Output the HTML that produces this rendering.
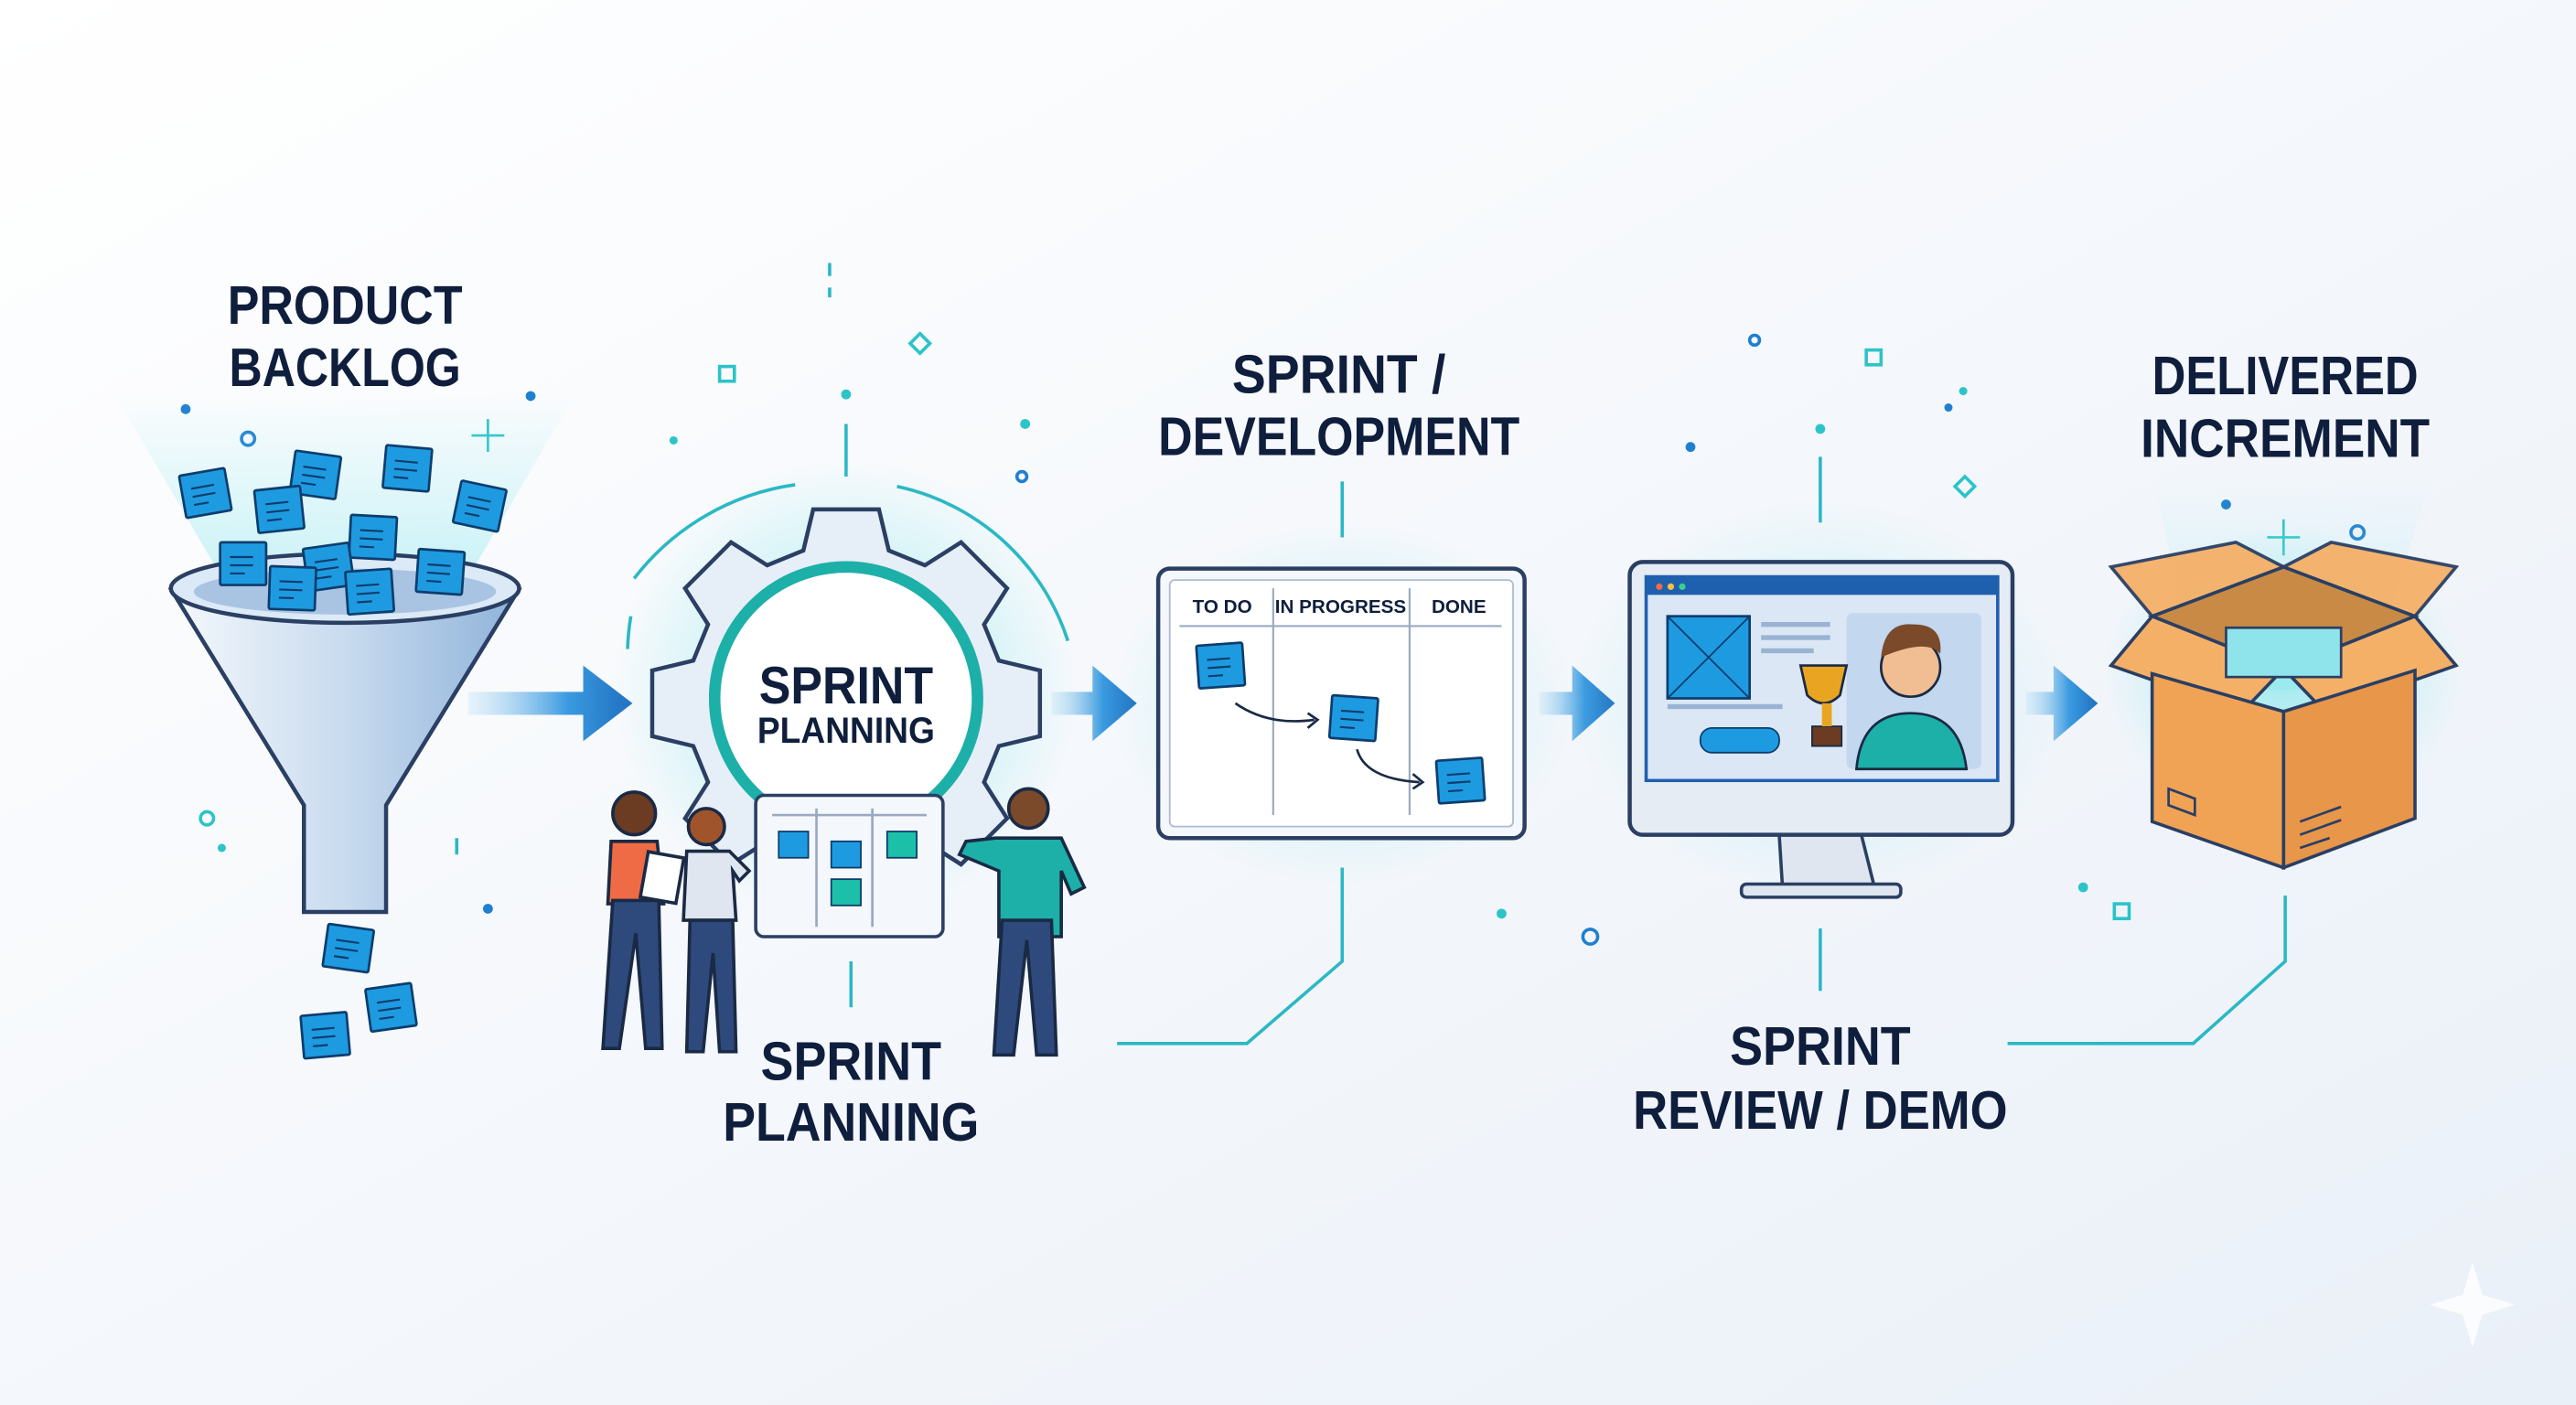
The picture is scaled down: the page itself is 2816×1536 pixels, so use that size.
<!DOCTYPE html>
<html><head><meta charset="utf-8"><style>
html,body{margin:0;padding:0;width:2816px;height:1536px;overflow:hidden;background:#f5f8fc}
svg{display:block}
text{font-family:"Liberation Sans",sans-serif;font-weight:bold;fill:#0f1e3c}
</style></head><body>
<svg width="2816" height="1536" viewBox="0 0 1568 855" preserveAspectRatio="none" xmlns="http://www.w3.org/2000/svg">
<defs>
<linearGradient id="bg" x1="0" y1="0" x2="1" y2="1"><stop offset="0" stop-color="#ffffff"/><stop offset="1" stop-color="#eaf0f8"/></linearGradient>
<linearGradient id="arr" x1="0" x2="1"><stop offset="0" stop-color="#bfe0f5" stop-opacity="0.3"/><stop offset="0.6" stop-color="#3b9be0"/><stop offset="1" stop-color="#1f6fc0"/></linearGradient>
<radialGradient id="glow"><stop offset="0" stop-color="#7fe6ea" stop-opacity="0.7"/><stop offset="1" stop-color="#7fe6ea" stop-opacity="0"/></radialGradient>
<linearGradient id="fun" x1="0" x2="1"><stop offset="0" stop-color="#f4f8fc"/><stop offset="0.5" stop-color="#c9dbef"/><stop offset="1" stop-color="#8fb3da"/></linearGradient>
<linearGradient id="beam" x1="0" y1="1" x2="0" y2="0"><stop offset="0" stop-color="#8ee8ee" stop-opacity="0.6"/><stop offset="1" stop-color="#8ee8ee" stop-opacity="0"/></linearGradient>
<g id="note"><rect x="-14" y="-13" width="28" height="26" fill="#1e9be0" stroke="#0d3d6e" stroke-width="1.5" rx="1"/><path d="M-8-4h14M-8 1h14M-8 6h9" stroke="#0d3d6e" stroke-width="1.2"/></g>
<g id="arrow"><path d="M0-10H-0 M0 -10 h0" /></g>
</defs>
<rect width="1568" height="855" fill="url(#bg)"/>

<!-- Titles -->
<text x="210" y="197" font-size="33" text-anchor="middle" textLength="143" lengthAdjust="spacingAndGlyphs">PRODUCT</text>
<text x="210" y="235" font-size="33" text-anchor="middle" textLength="141" lengthAdjust="spacingAndGlyphs">BACKLOG</text>
<text x="815" y="239" font-size="33" text-anchor="middle" textLength="130" lengthAdjust="spacingAndGlyphs">SPRINT /</text>
<text x="815" y="277" font-size="33" text-anchor="middle" textLength="220" lengthAdjust="spacingAndGlyphs">DEVELOPMENT</text>
<text x="1391" y="240" font-size="33" text-anchor="middle" textLength="162" lengthAdjust="spacingAndGlyphs">DELIVERED</text>
<text x="1391" y="278" font-size="33" text-anchor="middle" textLength="176" lengthAdjust="spacingAndGlyphs">INCREMENT</text>
<text x="518" y="657" font-size="33" text-anchor="middle" textLength="110" lengthAdjust="spacingAndGlyphs">SPRINT</text>
<text x="518" y="694" font-size="33" text-anchor="middle" textLength="156" lengthAdjust="spacingAndGlyphs">PLANNING</text>
<text x="1108" y="648" font-size="33" text-anchor="middle" textLength="110" lengthAdjust="spacingAndGlyphs">SPRINT</text>
<text x="1108" y="687" font-size="33" text-anchor="middle" textLength="228" lengthAdjust="spacingAndGlyphs">REVIEW / DEMO</text>

<!-- connectors -->
<g stroke="#2bb8c4" stroke-width="2" fill="none">
<path d="M515 258v32M505 160v8M505 175v6M518 585v28M817 293v34M817 528v57l-58 50h-79M1108 278v40M1108 565v38M1391 545v40l-56 50h-113M278 510v10"/>
</g>
<!-- dots & sparkles -->
<g fill="#1f7fd0"><circle cx="113" cy="249" r="3"/><circle cx="323" cy="241" r="3"/><circle cx="297" cy="553" r="3"/><circle cx="1029" cy="272" r="3"/><circle cx="1186" cy="248" r="2.5"/><circle cx="1355" cy="307" r="3"/></g>
<g fill="#2bc4c8"><circle cx="515" cy="240" r="3"/><circle cx="410" cy="268" r="2.5"/><circle cx="624" cy="258" r="3"/><circle cx="1108" cy="261" r="3"/><circle cx="1195" cy="238" r="2.5"/><circle cx="914" cy="556" r="3"/><circle cx="1268" cy="540" r="3"/><circle cx="135" cy="516" r="2.5"/></g>
<g fill="none" stroke="#1f7fd0" stroke-width="2"><circle cx="151" cy="267" r="4"/><circle cx="622" cy="290" r="3"/><circle cx="1068" cy="207" r="3"/><circle cx="1435" cy="324" r="4"/><circle cx="968" cy="570" r="4.5"/></g>
<g fill="none" stroke="#2bc4c8" stroke-width="2"><rect x="438" y="223" width="9" height="9"/><rect x="1136" y="213" width="9" height="9"/><rect x="1287" y="550" width="9" height="9"/><circle cx="126" cy="498" r="4"/><path d="M560 203l6 6-6 6-6-6z"/><path d="M1196 290l6 6-6 6-6-6z"/></g>
<path d="M297 255v20M287 265h20M1390 316v22M1380 327h20" stroke="#2bc4c8" stroke-width="1.5"/>
<path d="M1505 768l6 20 20 6-20 6-6 20-6-20-20-6 20-6z" fill="#ffffff" opacity="0.8"/>

<!-- Funnel -->
<path d="M70 240L350 240L280 360H140Z" fill="url(#beam)" opacity="0.8"/>
<path d="M105 360 Q210 395 315 360 L235 490 V555 H185 V490 Z" fill="url(#fun)" stroke="#2a3f63" stroke-width="2.5"/>
<ellipse cx="210" cy="358" rx="106" ry="21" fill="#dce9f6" stroke="#2a3f63" stroke-width="2.5"/>
<ellipse cx="210" cy="360" rx="92" ry="14" fill="#a9c4e2"/>
<use href="#note" transform="translate(125 300) rotate(-10)"/>
<use href="#note" transform="translate(192 289) rotate(8)"/>
<use href="#note" transform="translate(248 285) rotate(5)"/>
<use href="#note" transform="translate(292 308) rotate(12)"/>
<use href="#note" transform="translate(170 310) rotate(-6)"/>
<use href="#note" transform="translate(227 327) rotate(3)"/>
<use href="#note" transform="translate(148 343)"/>
<use href="#note" transform="translate(200 345) rotate(-8)"/>
<use href="#note" transform="translate(268 348) rotate(4)"/>
<use href="#note" transform="translate(178 358) rotate(2)"/>
<use href="#note" transform="translate(225 360) rotate(-4)"/>
<use href="#note" transform="translate(212 577) rotate(8)"/>
<use href="#note" transform="translate(238 613) rotate(-8)"/>
<use href="#note" transform="translate(198 630) rotate(-5)"/>

<!-- arrows -->
<g fill="url(#arr)">
<path d="M285 421h70v-16l30 23-30 23v-16h-70z"/>
<path d="M640 421h25v-16l27 23-27 23v-16h-25z"/>
<path d="M937 421h20v-16l26 23-26 23v-16h-20z"/>
<path d="M1233 421h17v-16l27 23-27 23v-16h-17z"/>
</g>

<!-- Gear -->
<circle cx="515" cy="420" r="140" fill="url(#glow)"/>
<path d="M386 352a150 150 0 0 1 98-57" fill="none" stroke="#2bb8c4" stroke-width="2"/>
<path d="M546 296a140 140 0 0 1 104 94" fill="none" stroke="#2bb8c4" stroke-width="2"/>
<path d="M384 375a145 145 0 0 0 -2 20" fill="none" stroke="#2bb8c4" stroke-width="2"/>
<g transform="translate(515 425)" fill="#e6eef7" stroke="#2a3f63" stroke-width="2.5">
<path d="M-20-115h40l6 25 22 9 22-14 28 28-14 22 9 22 25 6v40l-25 6-9 22 14 22-28 28-22-14-22 9-6 25h-40l-6-25-22-9-22 14-28-28 14-22-9-22-25-6v-40l25-6 9-22-14-22 28-28 22 14 22-9z"/>
</g>
<circle cx="515" cy="425" r="80" fill="#ffffff" stroke="#1cb0a8" stroke-width="7"/>
<text x="515" y="428" font-size="32" text-anchor="middle" textLength="106" lengthAdjust="spacingAndGlyphs">SPRINT</text>
<text x="515" y="452" font-size="22" text-anchor="middle" textLength="108" lengthAdjust="spacingAndGlyphs">PLANNING</text>
<!-- small board -->
<rect x="460" y="484" width="114" height="86" rx="5" fill="#f4f7fb" stroke="#2a3f63" stroke-width="2"/>
<path d="M470 496h94M497 492v72M531 492v72" stroke="#9aaac0" stroke-width="1.5"/>
<rect x="474" y="506" width="18" height="16" fill="#1e9be0" stroke="#0d3d6e"/>
<rect x="506" y="512" width="18" height="16" fill="#1e9be0" stroke="#0d3d6e"/>
<rect x="540" y="506" width="18" height="16" fill="#1cc0a8" stroke="#0d3d6e"/>
<rect x="506" y="535" width="18" height="16" fill="#1cc0a8" stroke="#0d3d6e"/>
<!-- people -->
<g stroke="#1a2a45" stroke-width="2">
<circle cx="386" cy="495" r="13" fill="#6b3b22"/>
<path d="M372 512h28l4 38h-34z" fill="#ef6b45"/>
<path d="M373 548l-6 90h10l10-70 6 70h10l-2-90z" fill="#2e4a7c"/>
<rect x="392" y="520" width="22" height="28" fill="#fff" transform="rotate(10 403 534)"/>
<circle cx="430" cy="503" r="11" fill="#a0542c"/>
<path d="M418 518h26l12 12-6 6-4-6 2 30h-32z" fill="#dfe6f0"/>
<path d="M420 560l-2 80h10l6-60 4 60h10l-2-80z" fill="#2e4a7c"/>
<circle cx="626" cy="492" r="12" fill="#7a4a2a"/>
<path d="M606 510h40l14 30-8 4-6-14v40h-38v-40l-24-10 4-8z" fill="#1cb0a8"/>
<path d="M610 560l-5 82h12l8-70 6 70h12l-3-82z" fill="#2e4a7c"/>
</g>

<!-- Kanban board -->
<ellipse cx="817" cy="428" rx="140" ry="110" fill="url(#glow)" opacity="0.7"/>
<rect x="705" y="346" width="223" height="164" rx="7" fill="#f4f7fb" stroke="#2a3f63" stroke-width="2.5"/>
<rect x="712" y="353" width="209" height="150" rx="3" fill="#ffffff" stroke="#aebbd0"/>
<text x="744" y="373" font-size="11.5" text-anchor="middle">TO DO</text>
<text x="816" y="373" font-size="11.5" text-anchor="middle">IN PROGRESS</text>
<text x="888" y="373" font-size="11.5" text-anchor="middle">DONE</text>
<path d="M718 381h196M775 358v138M858 358v138" stroke="#9aaac0" stroke-width="1.2"/>
<use href="#note" transform="translate(743 405) rotate(-4)"/>
<use href="#note" transform="translate(824 437) rotate(4)"/>
<use href="#note" transform="translate(889 475) rotate(-4)"/>
<path d="M752 428q20 14 48 10M826 456q5 18 38 20" fill="none" stroke="#1a2a45" stroke-width="1.5"/>
<path d="M796 434l6 4-6 5M860 471l6 5-6 4" fill="none" stroke="#1a2a45" stroke-width="1.5"/>

<!-- Monitor -->
<ellipse cx="1108" cy="425" rx="150" ry="120" fill="url(#glow)" opacity="0.6"/>
<path d="M1083 508h50l8 32h-56z" fill="#dfe6f0" stroke="#2a3f63" stroke-width="2"/>
<rect x="1060" y="538" width="97" height="8" rx="3" fill="#dfe6f0" stroke="#2a3f63" stroke-width="2"/>
<rect x="992" y="342" width="233" height="166" rx="8" fill="#e6ecf4" stroke="#2a3f63" stroke-width="2.5"/>
<rect x="1001" y="350" width="216" height="126" fill="#1e5fae"/>
<rect x="1003" y="362" width="212" height="112" fill="#dbe7f5"/>
<circle cx="1010" cy="357" r="2" fill="#ef6b45"/><circle cx="1017" cy="357" r="2" fill="#f4c040"/><circle cx="1024" cy="357" r="2" fill="#3ccf8a"/>
<rect x="1015" y="375" width="50" height="50" fill="#1e9be0" stroke="#0d3d6e" stroke-width="1.5"/>
<path d="M1015 375l50 50M1065 375l-50 50" stroke="#0d3d6e" stroke-width="1"/>
<path d="M1072 380h42M1072 388h42M1072 396h32M1015 430h70" stroke="#9ab3d3" stroke-width="3"/>
<rect x="1035" y="443" width="48" height="15" rx="7" fill="#1e9be0" stroke="#0d3d6e"/>
<rect x="1124" y="373" width="82" height="95" rx="4" fill="#c3d7ee"/>
<circle cx="1163" cy="406" r="18" fill="#f1bd92" stroke="#1a2a45" stroke-width="1.5"/>
<path d="M1145 400q2-22 20-20 18 0 16 18q-8-10-36 2z" fill="#7a4a2a"/>
<path d="M1130 468q3-34 33-34 30 0 34 34z" fill="#1cb0a8" stroke="#1a2a45" stroke-width="1.5"/>
<path d="M1096 405h28l-4 18q-10 10-20 0z" fill="#e9a521" stroke="#1a2a45" stroke-width="1.5"/>
<rect x="1103" y="442" width="18" height="12" fill="#6b3b22" stroke="#1a2a45"/>
<rect x="1109" y="428" width="6" height="14" fill="#e9a521"/>
<rect x="1001" y="476" width="216" height="24" fill="#e6ecf4"/>

<!-- Box -->
<path d="M1310 290L1480 290L1440 420H1340Z" fill="url(#beam)" opacity="0.6"/>
<ellipse cx="1390" cy="410" rx="110" ry="90" fill="url(#glow)"/>
<path d="M1310 375l80-30 80 30-80 32z" fill="#c88a45" stroke="#2a3f63" stroke-width="2"/>
<path d="M1310 375l-25 30 80 28 25-26zM1470 375l25 30-80 28-25-26z" fill="#f5b068" stroke="#2a3f63" stroke-width="2"/>
<path d="M1310 375l-25-30 76-15 29 15zM1470 375l25-30-76-15-29 15z" fill="#f5b068" stroke="#2a3f63" stroke-width="2" opacity="0.95"/>
<rect x="1355" y="382" width="70" height="30" fill="#8fe3ea" stroke="#2a3f63" stroke-width="1.5"/>
<path d="M1310 410v90l80 28v-95z" fill="#f0a355" stroke="#2a3f63" stroke-width="2"/>
<path d="M1390 433v95l80-30v-90z" fill="#e8964a" stroke="#2a3f63" stroke-width="2"/>
<path d="M1320 480l16 6v10l-16-6z" fill="none" stroke="#2a3f63" stroke-width="1.5"/>
<path d="M1400 500l25-9M1400 508l25-9M1400 516l18-6" stroke="#2a3f63" stroke-width="1.5"/>
</svg>
</body></html>
